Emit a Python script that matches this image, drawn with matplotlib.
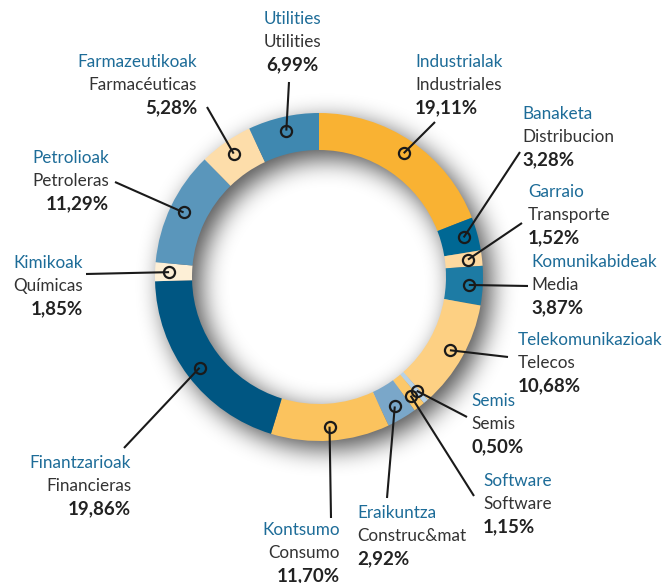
import numpy as np
import matplotlib
matplotlib.use("Agg")
import matplotlib.pyplot as plt

# sector shares, clockwise from 12 o'clock
names_eu = ["Industrialak", "Banaketa", "Garraio", "Komunikabideak", "Telekomunikazioak",
            "Semis", "Software", "Eraikuntza", "Kontsumo", "Finantzarioak",
            "Kimikoak", "Petrolioak", "Farmazeutikoak", "Utilities"]
names_es = ["Industriales", "Distribucion", "Transporte", "Media", "Telecos",
            "Semis", "Software", "Construc&mat", "Consumo", "Financieras",
            "Químicas", "Petroleras", "Farmacéuticas", "Utilities"]
shares = [19.11, 3.28, 1.52, 3.87, 10.68, 0.50, 1.15, 2.92, 11.70, 19.86,
          1.85, 11.29, 5.28, 6.99]
colors = ["#F9B233", "#006894", "#FDD9A0", "#1D7BA4", "#FDD083",
          "#B7D2E6", "#FCC86A", "#7AA7C9", "#FBC35E", "#005682",
          "#FDEFD6", "#5A96BB", "#FDDDAA", "#3F88B0"]

# label layout in pixels (x, y of first line, text alignment, leader end)
label_xy = [(415, 62), (522, 114), (528, 192), (531, 262), (518, 340),
            (471, 401), (483, 481), (357, 513), (340, 530), (131, 463),
            (83, 263), (109, 158), (197, 62), (292, 19)]
label_ha = ["left", "left", "left", "left", "left", "left", "left", "left",
            "right", "right", "right", "right", "right", "center"]
leader_end = [(435, 122), (520, 152), (522, 223), (528, 286), (508, 357),
              (467, 417), (474, 496), (387, 498), (331, 518), (124, 448),
              (86, 274), (115, 182), (207, 107), (289, 82)]

W, H = 663, 583
cx, cy = 319, H - 277
r_out, ring_w = 164, 37

plt.rcParams['font.family'] = ['Lato', 'DejaVu Sans']
fig = plt.figure(figsize=(W / 100, H / 100), dpi=100)
ax = fig.add_axes([0, 0, 1, 1])
ax.set_xlim(0, W)
ax.set_ylim(0, H)
ax.axis("off")

# soft drop shadow of the ring, offset down-right and blurred
yy, xx = np.mgrid[0:H, 0:W]
rr = np.hypot(xx - (cx + 9), (H - yy) - (cy - 9))
mask = ((rr <= r_out) & (rr >= r_out - ring_w)).astype(float)
for _ in range(3):
    k = 12
    c = np.cumsum(np.pad(mask, ((0, 0), (k, k)), mode="edge"), axis=1)
    mask = (c[:, 2 * k:] - c[:, :-2 * k]) / (2 * k)
    c = np.cumsum(np.pad(mask, ((k, k), (0, 0)), mode="edge"), axis=0)
    mask = (c[2 * k:, :] - c[:-2 * k, :]) / (2 * k)
shadow = np.zeros((H, W, 4))
shadow[..., 3] = np.clip(mask * 0.7, 0, 1)
ax.imshow(shadow, extent=(0, W, 0, H), origin="upper", zorder=0, aspect="auto")

wedges, _ = ax.pie(shares, colors=colors, startangle=90, counterclock=False,
                   center=(cx, cy), radius=r_out, frame=True,
                   wedgeprops=dict(width=ring_w, linewidth=0))
for w in wedges:
    w.set_zorder(1)
ax.set_xlim(0, W)
ax.set_ylim(0, H)
ax.axis("off")

cum = np.cumsum(shares) - np.array(shares) / 2
for i, w in enumerate(wedges):
    ang = np.deg2rad(90 - cum[i] / 100 * 360)
    dx = cx + 150 * np.cos(ang)
    dy = cy + 150 * np.sin(ang)
    ex, ey = leader_end[i]
    ax.plot([dx, ex], [dy, H - ey], color="#1a1a1a", lw=1.5, zorder=2,
            solid_capstyle="butt")
    ax.plot(dx, dy, "o", ms=8, mfc="none", mec="#1a1a1a", mew=1.6, zorder=3)

    tx, ty = label_xy[i]
    ha = label_ha[i]
    ax.text(tx, H - ty, names_eu[i], ha=ha, va="center", fontsize=12.3,
            color="#1D6C98")
    ax.text(tx, H - ty - 23, names_es[i], ha=ha, va="center", fontsize=12.3,
            color="#333333")
    pct = ("%.2f%%" % shares[i]).replace(".", ",")
    ax.text(tx, H - ty - 46, pct, ha=ha, va="center", fontsize=13.5,
            color="#222222", fontweight="bold")

fig.savefig("out.png", dpi=100)
